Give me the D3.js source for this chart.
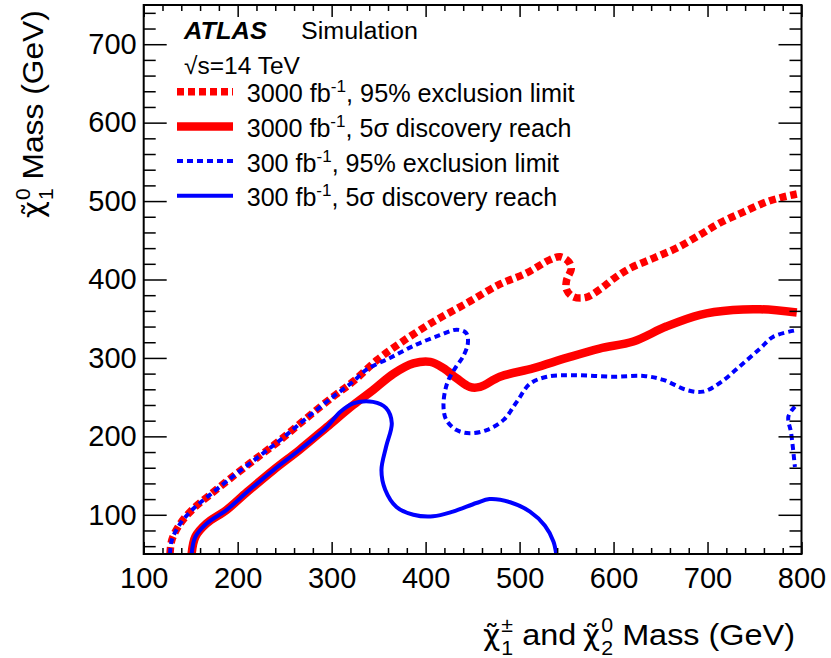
<!DOCTYPE html>
<html><head><meta charset="utf-8">
<script src="https://cdn.jsdelivr.net/npm/d3@7/dist/d3.min.js"></script>
<style>
body{margin:0;background:#fff}
text{font-family:"Liberation Sans",Arimo,Helvetica,Arial,sans-serif;fill:#000}
</style></head>
<body><svg id="c" width="831" height="658"></svg>
<script>
// ---------- data (GeV) ----------
const xMajorTicks = [100, 200, 300, 400, 500, 600, 700, 800];
const yMajorTicks = [100, 200, 300, 400, 500, 600, 700];
const xDomain = [100, 800];
const yDomain = [50, 750];

// shared diagonal part of the exclusion contours (3000 and 300 fb-1 coincide)
const exclDiag = [[128,50],[130,68],[139,89],[153,108],[170,125],[195,149],[220,172],[245,195],[273,223],[302,251],[323,270]];
// 3000 fb-1, 95% exclusion limit
const excl3000Tail = [[348,297],[373,319],[408,346],[444,370],[479,394],[507,408],[532,425],[543,429],[552,423],[555,414],[550,399],[550,387],[557,378],[570,377],[585,387],[600,401],[617,414],[642,427],[667,440],[692,457],[713,472],[738,486],[763,499],[780,505],[795,509]];
// 300 fb-1, 95% exclusion limit (two separate pieces)
const excl300Tail = [[337,285],[362,300],[390,317],[415,329],[433,336],[443,332],[445,319],[440,302],[432,288],[423,268],[419,240],[422,221],[433,208],[447,204],[465,208],[483,221],[497,244],[511,267],[529,276],[557,278],[600,276],[632,277],[653,272],[678,259],[695,257],[713,268],[734,289],[756,312],[770,327],[793,335]];
const excl300Edge = [[793,238],[786,225],[789,204],[793,161]];

// shared diagonal part of the discovery contours
const discDiag = [[151,50],[155,72],[167,89],[188,106],[210,129],[238,157],[266,183],[295,212]];
// 3000 fb-1, 5 sigma discovery
const disc3000Tail = [[323,240],[344,259],[366,280],[387,293],[405,295],[419,287],[433,274],[447,263],[458,263],[479,276],[515,287],[550,300],[585,312],[621,321],[656,340],[692,355],[727,361],[756,362],[795,358]];
// 300 fb-1, 5 sigma discovery
const disc300Tail = [[309,231],[323,242],[344,244],[358,236],[364,217],[358,187],[353,157],[357,132],[369,110],[387,100],[408,98],[429,104],[454,115],[468,120],[490,116],[511,104],[527,86],[536,66],[539,50]];

const legendLabels = ["3000 fb", "3000 fb", "300 fb", "300 fb"];
const legendTails = [", 95% exclusion limit", ", 5\u03c3 discovery reach", ", 95% exclusion limit", ", 5\u03c3 discovery reach"];

// ---------- layout ----------
const svg = d3.select('#c');
const L = 143.7, R = 801.5, T = 5, B = 554;
const x = d3.scaleLinear().domain(xDomain).range([L, R]);
const y = d3.scaleLinear().domain(yDomain).range([B, T]);

const styles = [
  {color:'#ff0000', w:7.5, dash:'7,4'},   // 3000 excl
  {color:'#ff0000', w:8.5, dash:null},    // 3000 disc
  {color:'#0000ff', w:4,   dash:'6,4'},   // 300 excl
  {color:'#0000ff', w:4,   dash:null}     // 300 disc
];

svg.append('defs').append('clipPath').attr('id','clip')
  .append('rect').attr('x',L).attr('y',T).attr('width',R-L).attr('height',B-T);

const line = d3.line().x(d=>x(d[0])).y(d=>y(d[1])).curve(d3.curveCatmullRom.alpha(0.5));
const curves = svg.append('g').attr('clip-path','url(#clip)');
function draw(data, s){
  curves.append('path').attr('d', line(data)).attr('fill','none')
    .attr('stroke', s.color).attr('stroke-width', s.w)
    .attr('stroke-dasharray', s.dash).attr('stroke-linejoin','round');
}
draw(exclDiag.concat(excl3000Tail), styles[0]);
draw(discDiag.concat(disc3000Tail), styles[1]);
draw(exclDiag.concat(excl300Tail), styles[2]);
draw(excl300Edge, styles[2]);
draw(discDiag.concat(disc300Tail), styles[3]);

// ---------- axes ----------
const xMinor = d3.range(xDomain[0], xDomain[1]+1, 20).filter(v => v % 100 !== 0);
const yMinor = d3.range(60, yDomain[1]+1, 20).filter(v => v % 100 !== 0);
function styleAxis(g){
  g.select('.domain').remove();
  g.selectAll('line').attr('stroke','#000').attr('stroke-width',1.5);
  g.selectAll('text').attr('font-size',29).attr('font-family','"Liberation Sans",Arimo,Helvetica,Arial,sans-serif');
}
svg.append('g').attr('transform',`translate(0,${B})`)
  .call(d3.axisBottom(x).tickValues(xMajorTicks).tickSize(-12).tickPadding(13).tickFormat(d3.format('d'))).call(styleAxis);
svg.append('g').attr('transform',`translate(0,${B})`)
  .call(d3.axisBottom(x).tickValues(xMinor).tickSize(-6).tickFormat('')).call(styleAxis);
svg.append('g').attr('transform',`translate(0,${T})`)
  .call(d3.axisTop(x).tickValues(xMajorTicks).tickSize(-12).tickFormat('')).call(styleAxis);
svg.append('g').attr('transform',`translate(0,${T})`)
  .call(d3.axisTop(x).tickValues(xMinor).tickSize(-6).tickFormat('')).call(styleAxis);
svg.append('g').attr('transform',`translate(${L},0)`)
  .call(d3.axisLeft(y).tickValues(yMajorTicks).tickSize(-23).tickPadding(7).tickFormat(d3.format('d'))).call(styleAxis);
svg.append('g').attr('transform',`translate(${L},0)`)
  .call(d3.axisLeft(y).tickValues(yMinor).tickSize(-12).tickFormat('')).call(styleAxis);
svg.append('g').attr('transform',`translate(${R},0)`)
  .call(d3.axisRight(y).tickValues(yMajorTicks).tickSize(-23).tickFormat('')).call(styleAxis);
svg.append('g').attr('transform',`translate(${R},0)`)
  .call(d3.axisRight(y).tickValues(yMinor).tickSize(-12).tickFormat('')).call(styleAxis);

svg.append('rect').attr('x',L).attr('y',T).attr('width',R-L).attr('height',B-T)
  .attr('fill','none').attr('stroke','#000').attr('stroke-width',2);

// ---------- text helpers ----------
function fit(sel, tx, ty, targetW){
  const w = sel.node().getBBox().width;
  sel.attr('transform', `translate(${tx},${ty}) scale(${targetW/w},1)`);
}
// chi with combining tilde and stacked super/subscript, all in ONE text element
function chiText(g, cx, fs, sup, sub){
  const t = g.append('text').attr('x',cx).attr('y',0).attr('font-size',fs);
  const c = t.append('tspan').attr('font-family','"DejaVu Sans"').attr('font-size',fs*0.92).text('\u03c7\u0303');
  const w = c.node().getComputedTextLength();
  const sx = cx + w + 1;
  const a = t.append('tspan').attr('x',sx).attr('y',-0.42*fs).attr('font-size',fs*0.66).text(sup);
  const wa = a.node().getComputedTextLength();
  const b = t.append('tspan').attr('x',sx).attr('y',0.33*fs).attr('font-size',fs*0.66).text(sub);
  const wb = b.node().getComputedTextLength();
  return sx + Math.max(wa, wb) - cx;
}
function rich(g, parts, fs){
  let cx = 0;
  parts.forEach(p => {
    if (p.gap) cx += p.gap*fs;
    if (p.chi){
      cx += chiText(g, cx, fs, p.sup, p.sub);
    } else {
      const t = g.append('text').attr('x',cx).attr('y',0).attr('font-size',fs).text(p.t);
      cx += t.node().getComputedTextLength();
    }
  });
  return g;
}

// ATLAS label
fit(svg.append('text').attr('font-size',24).attr('font-weight','bold').attr('font-style','italic').text('ATLAS'), 184, 39, 84);
fit(svg.append('text').attr('font-size',24.5).text('Simulation'), 301, 39, 117);
fit(svg.append('text').attr('font-size',24).text('\u221as=14 TeV'), 184, 74, 116);

// legend
const legY = [91.7, 126.4, 161.1, 195.8];
const legW = [328, 325, 312.6, 310.6];
styles.forEach((s,i) => {
  svg.append('line').attr('x1',177).attr('x2',233).attr('y1',legY[i]).attr('y2',legY[i])
    .attr('stroke',s.color).attr('stroke-width',s.w).attr('stroke-dasharray',s.dash);
  const t = svg.append('text').attr('font-size',25);
  t.append('tspan').text(legendLabels[i]);
  t.append('tspan').attr('font-size',17).attr('dy',-10).text('-1');
  t.append('tspan').attr('dy',10).text(legendTails[i]);
  fit(t, 246.7, legY[i]+10.5, legW[i]);
});

// axis titles
const xt = rich(svg.append('g'), [
  {chi:true, sup:'\u00b1', sub:'1'},
  {t:'and', gap:0.28},
  {chi:true, sup:'0', sub:'2', gap:0.2},
  {t:'Mass (GeV)', gap:0.28}
], 30);
(function(){
  const bb = xt.node().getBBox();
  const target = 312;
  const sx = target / bb.width;
  xt.attr('transform', `translate(${795 - target - bb.x*sx},645) scale(${sx},1)`);
})();

const yt = rich(svg.append('g'), [
  {chi:true, sup:'0', sub:'1'},
  {t:'Mass (GeV)', gap:0.28}
], 30);
(function(){
  const bb = yt.node().getBBox();
  const target = 208;
  const sx = target / bb.width;
  yt.attr('transform', `translate(43,${218 + bb.x*sx}) rotate(-90) scale(${sx},1)`);
})();
</script></body></html>
